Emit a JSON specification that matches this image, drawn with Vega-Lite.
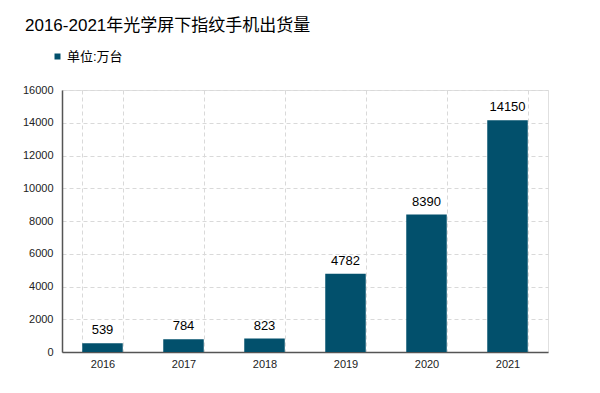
{
  "$schema": "https://vega.github.io/schema/vega-lite/v6.json",
  "width": 486,
  "height": 262,
  "autosize": {"type": "none"},
  "padding": {"left": 62, "top": 90, "right": 52, "bottom": 41},
  "background": "white",
  "title": {
    "text": "2016-2021年光学屏下指纹手机出货量",
    "anchor": "start",
    "frame": "group",
    "dx": -37,
    "offset": 15,
    "fontSize": 17,
    "fontWeight": "normal",
    "font": "Liberation Sans, Noto Sans CJK SC",
    "color": "#000000"
  },
  "data": {
    "values": [
      {"year": "2016", "value": 539, "unit": "单位:万台"},
      {"year": "2017", "value": 784, "unit": "单位:万台"},
      {"year": "2018", "value": 823, "unit": "单位:万台"},
      {"year": "2019", "value": 4782, "unit": "单位:万台"},
      {"year": "2020", "value": 8390, "unit": "单位:万台"},
      {"year": "2021", "value": 14150, "unit": "单位:万台"}
    ]
  },
  "encoding": {
    "x": {
      "field": "year",
      "type": "nominal",
      "scale": {"paddingInner": 0.5, "paddingOuter": 0.25},
      "axis": {
        "title": null,
        "labelAngle": 0,
        "labelFontSize": 11,
        "labelColor": "#222222",
        "labelPadding": 6,
        "labelFont": "Liberation Sans",
        "ticks": false,
        "domainColor": "#555555",
        "domainWidth": 1.5,
        "grid": true,
        "tickBand": "extent",
        "gridColor": "#d9d9d9",
        "gridDash": [4, 3]
      }
    },
    "y": {
      "field": "value",
      "type": "quantitative",
      "scale": {"domain": [0, 16000], "nice": false},
      "axis": {
        "title": null,
        "values": [0, 2000, 4000, 6000, 8000, 10000, 12000, 14000, 16000],
        "format": "d",
        "labelFontSize": 11,
        "labelColor": "#222222",
        "labelFont": "Liberation Sans",
        "labelPadding": 9,
        "ticks": false,
        "domainColor": "#555555",
        "domainWidth": 1.5,
        "gridColor": "#d9d9d9",
        "gridDash": [4, 3]
      }
    }
  },
  "layer": [
    {
      "mark": {"type": "bar", "color": "#02506C"},
      "encoding": {
        "color": {
          "field": "unit",
          "type": "nominal",
          "scale": {"range": ["#02506C"]},
          "legend": {
            "title": null,
            "orient": "none",
            "legendX": -11,
            "legendY": -40,
            "symbolType": "square",
            "symbolSize": 36,
            "symbolStrokeWidth": 0,
            "labelFontSize": 13,
            "labelFont": "Liberation Sans, Noto Sans CJK SC",
            "labelColor": "#000000",
            "labelOffset": 3
          }
        }
      }
    },
    {
      "mark": {"type": "text", "baseline": "bottom", "dy": -6, "fontSize": 13, "font": "Liberation Sans", "color": "#000000"},
      "encoding": {"text": {"field": "value", "type": "quantitative", "format": "d"}}
    }
  ],
  "config": {
    "view": {"stroke": "#e0e0e0"}
  }
}
